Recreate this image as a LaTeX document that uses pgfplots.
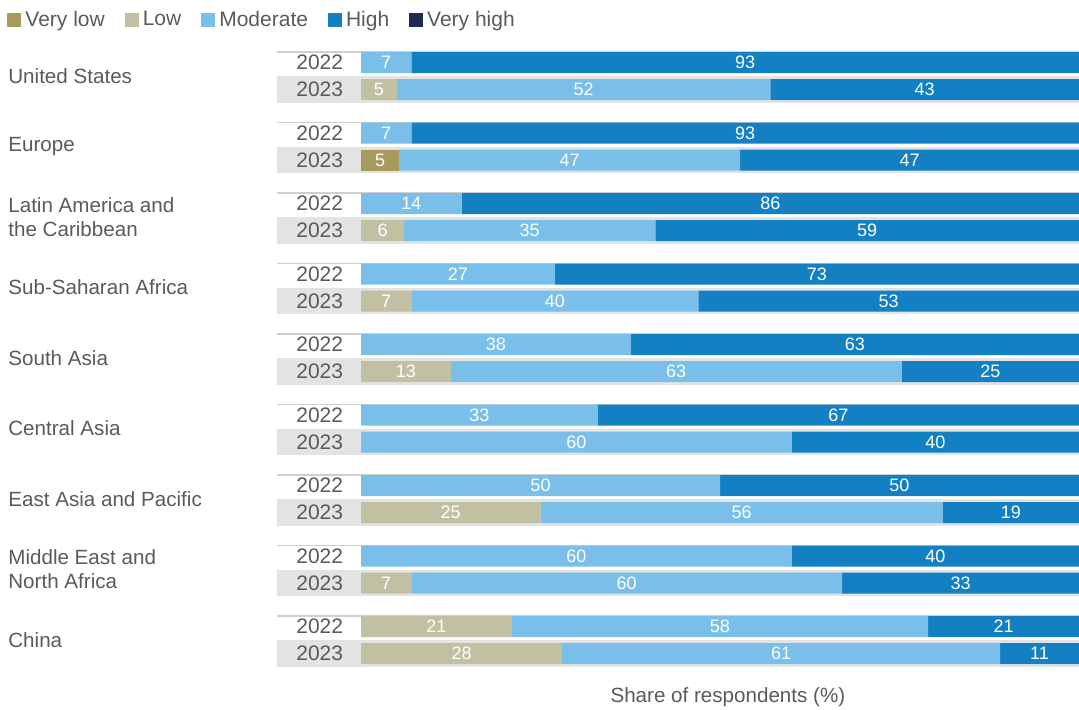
\documentclass[border=0pt]{standalone}
\usepackage{fontspec}
\setmainfont{Liberation Sans}
\usepackage{pgfplots}
\pgfplotsset{compat=1.18}
\definecolor{vlow}{HTML}{A89A5E}
\definecolor{low}{HTML}{C2C0A3}
\definecolor{moder}{HTML}{79BFE9}
\definecolor{high}{HTML}{1380C4}
\definecolor{vhigh}{HTML}{1D2B52}
\definecolor{bggray}{HTML}{E3E3E3}
\definecolor{rule}{HTML}{CFCFCF}
\definecolor{txt}{HTML}{5A5A5A}

\pgfplotsset{frame/.style={
  scale only axis, width=401pt, height=354.5pt,
  xmin=-11.7, xmax=100, ymin=0, ymax=709, y dir=reverse,
  axis line style={draw=none}, ticks=none, clip=false}}

\begin{document}
\begin{tikzpicture}
% row backgrounds and rules (drawn first, under the bars)
\begin{axis}[frame]
\pgfplotsinvokeforeach{0,...,8}{
  \fill[bggray] (axis cs:-11.7,{62.5+70.5*#1+13.5}) rectangle (axis cs:100,{62.5+70.5*#1+40.2});
  \draw[rule, line width=0.6pt] (axis cs:-11.7,{62.5+70.5*#1-10.5}) -- (axis cs:100,{62.5+70.5*#1-10.5});
}
\end{axis}

\begin{axis}[frame,
  xbar stacked, bar width=10.5pt,
  every axis plot/.append style={draw=none},
  point meta=explicit symbolic,
  visualization depends on={rawx \as \segw},
  nodes near coords={\ifdim\segw pt<0.5pt\else\pgfplotspointmeta\fi},
  every node near coord/.append style={anchor=center,
    font=\fontsize{9}{10}\selectfont, text=white},
  legend style={at={(axis cs:-49.3,20)}, anchor=west, draw=none, fill=none,
    inner sep=0pt, font=\fontsize{10.5}{12}\selectfont, text=txt, legend columns=-1,
    /tikz/every even column/.append style={column sep=8pt}},
  legend image code/.code={\path[#1] (0pt,-3.5pt) rectangle (7pt,3.5pt);},
]
% very low
\addplot[fill=vlow] coordinates {
(0,62.5)[0] (0,89.5)[0] (0,133)[0] (5.3,160)[5] (0,203.5)[0] (0,230.5)[0]
(0,274)[0] (0,301)[0] (0,344.5)[0] (0,371.5)[0] (0,415)[0] (0,442)[0]
(0,485.5)[0] (0,512.5)[0] (0,556)[0] (0,583)[0] (0,626.5)[0] (0,653.5)[0]};
\addlegendentry{Very low}
% low
\addplot[fill=low] coordinates {
(0,62.5)[0] (5,89.5)[5] (0,133)[0] (0,160)[0] (0,203.5)[0] (6,230.5)[6]
(0,274)[0] (7,301)[7] (0,344.5)[0] (12.5,371.5)[13] (0,415)[0] (0,442)[0]
(0,485.5)[0] (25,512.5)[25] (0,556)[0] (7,583)[7] (21,626.5)[21] (28,653.5)[28]};
\addlegendentry{Low}
% moderate
\addplot[fill=moder] coordinates {
(7,62.5)[7] (52,89.5)[52] (7,133)[7] (47.5,160)[47] (14,203.5)[14] (35,230.5)[35]
(27,274)[27] (40,301)[40] (37.6,344.5)[38] (62.8,371.5)[63] (33,415)[33] (60,442)[60]
(50,485.5)[50] (56,512.5)[56] (60,556)[60] (60,583)[60] (58,626.5)[58] (61,653.5)[61]};
\addlegendentry{Moderate}
% high
\addplot[fill=high] coordinates {
(93,62.5)[93] (43,89.5)[43] (93,133)[93] (47.2,160)[47] (86,203.5)[86] (59,230.5)[59]
(73,274)[73] (53,301)[53] (62.4,344.5)[63] (24.7,371.5)[25] (67,415)[67] (40,442)[40]
(50,485.5)[50] (19,512.5)[19] (40,556)[40] (33,583)[33] (21,626.5)[21] (11,653.5)[11]};
\addlegendentry{High}
% very high
\addplot[fill=vhigh] coordinates {
(0,62.5)[0] (0,89.5)[0] (0,133)[0] (0,160)[0] (0,203.5)[0] (0,230.5)[0]
(0,274)[0] (0,301)[0] (0,344.5)[0] (0,371.5)[0] (0,415)[0] (0,442)[0]
(0,485.5)[0] (0,512.5)[0] (0,556)[0] (0,583)[0] (0,626.5)[0] (0,653.5)[0]};
\addlegendentry{Very high}

\pgfplotsinvokeforeach{0,...,8}{
  \node[text=txt, font=\fontsize{10.5}{12}\selectfont] at (axis cs:-5.75,{62.5+70.5*#1}) {2022};
  \node[text=txt, font=\fontsize{10.5}{12}\selectfont] at (axis cs:-5.75,{89.5+70.5*#1}) {2023};
}

\tikzset{reg/.style={anchor=west, align=left, text=txt, inner sep=0pt,
  font=\fontsize{10.3}{12}\selectfont}}
\node[reg] at (axis cs:-49.17,76) {United States};
\node[reg] at (axis cs:-49.17,146.5) {Europe};
\node[reg] at (axis cs:-49.17,217) {Latin America and\\the Caribbean};
\node[reg] at (axis cs:-49.17,287.5) {Sub-Saharan Africa};
\node[reg] at (axis cs:-49.17,358) {South Asia};
\node[reg] at (axis cs:-49.17,428.5) {Central Asia};
\node[reg] at (axis cs:-49.17,499) {East Asia and Pacific};
\node[reg] at (axis cs:-49.17,569.5) {Middle East and\\North Africa};
\node[reg] at (axis cs:-49.17,640) {China};

\node[text=txt, font=\fontsize{10.3}{12}\selectfont] at (axis cs:51.1,697) {Share of respondents (\%)};

\coordinate (BL) at (axis cs:-50.28,709);
\coordinate (TR) at (axis cs:100,0);
\end{axis}
\pgfresetboundingbox
\useasboundingbox (BL) rectangle (TR);
\end{tikzpicture}
\end{document}
